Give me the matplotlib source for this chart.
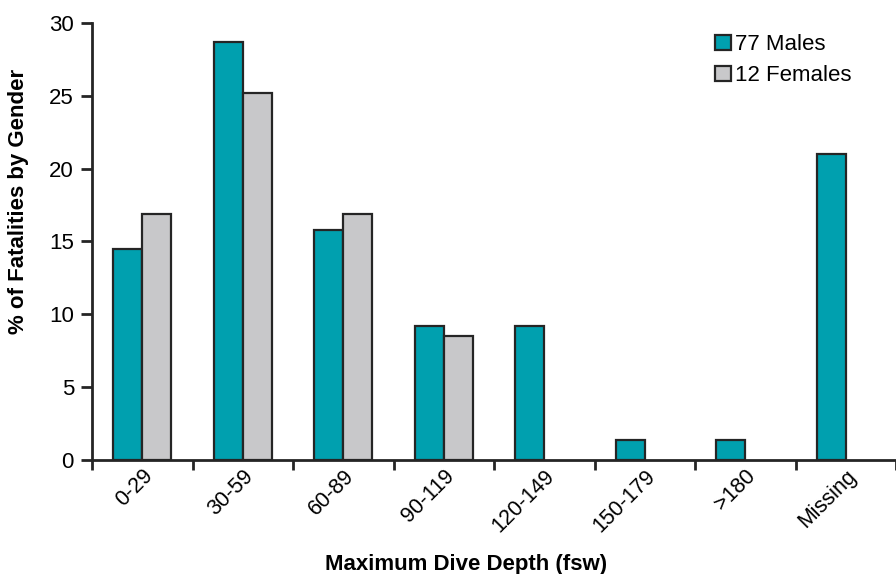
import matplotlib.pyplot as plt
import numpy as np

plt.rcParams['font.family'] = ['Liberation Sans', 'DejaVu Sans']

categories = ['0-29', '30-59', '60-89', '90-119', '120-149', '150-179', '>180', 'Missing']
males = [14.5, 28.7, 15.8, 9.2, 9.2, 1.4, 1.4, 21.0]
females = [16.9, 25.2, 16.9, 8.5, 0, 0, 0, 0]

teal = '#00A0AF'
grey = '#C8C8CA'
edge = '#252525'

fig = plt.figure(figsize=(8.96, 5.74), dpi=100)
ax = fig.add_axes([0.1027, 0.1986, 0.8973, 0.7614])

x = np.arange(len(categories))
w = 0.29
ax.bar(x - w / 2, males, w, color=teal, edgecolor=edge, linewidth=1.6, label='77 Males')
fem_x = [xi + w / 2 for xi, v in zip(x, females) if v > 0]
fem_v = [v for v in females if v > 0]
ax.bar(fem_x, fem_v, w, color=grey, edgecolor=edge, linewidth=1.6, label='12 Females')

ax.set_xlim(-0.5, len(categories) - 0.5)
ax.set_ylim(0, 30)
ax.set_yticks(range(0, 31, 5))

# boundary ticks with labels centred on the bars
ax.set_xticks(np.arange(-0.5, len(categories) + 0.5, 1))
ax.set_xticklabels([])
ax.set_xticks(x, minor=True)
ax.set_xticklabels(categories, minor=True, rotation=45, ha='right',
                   rotation_mode='anchor', fontsize=15.5)
ax.tick_params(axis='x', which='minor', length=0, pad=4)
ax.tick_params(axis='x', which='major', length=7, width=2, color=edge, direction='out')
ax.tick_params(axis='y', length=8, width=2, color=edge, labelsize=16, pad=5)

for s in ['top', 'right']:
    ax.spines[s].set_visible(False)
for s in ['left', 'bottom']:
    ax.spines[s].set_linewidth(2)
    ax.spines[s].set_color(edge)

fig.text(19 / 896, 0.649, '% of Fatalities by Gender', fontsize=16, fontweight='bold',
         rotation=90, ha='center', va='center')
fig.text(0.52, 4 / 574, 'Maximum Dive Depth (fsw)', fontsize=16, fontweight='bold',
         ha='center', va='baseline')

ax.legend(loc='upper right', bbox_to_anchor=(0.97, 1.02), frameon=False, fontsize=16,
          handlelength=0.7, handleheight=0.7, handletextpad=0.2, labelspacing=0.45)

fig.savefig('out.png', dpi=100)
